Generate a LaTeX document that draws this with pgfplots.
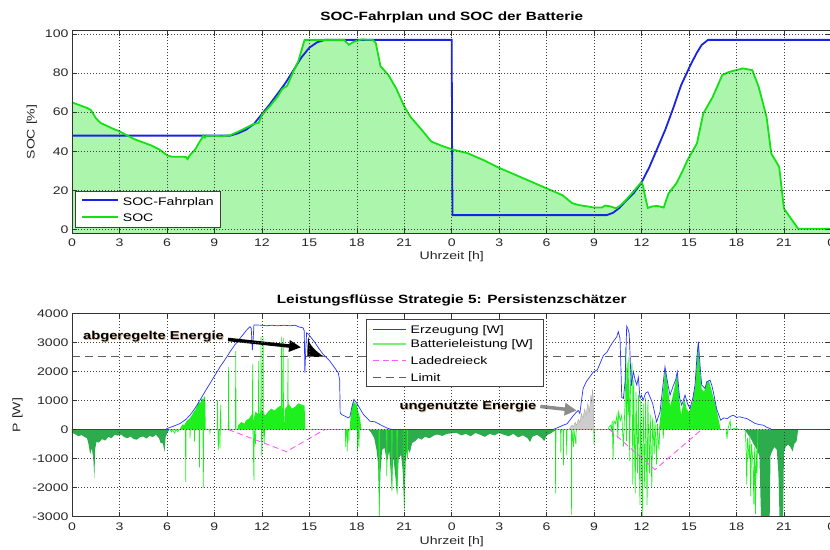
\documentclass[border=0pt]{standalone}
\usepackage{fontspec}
\setmainfont{Liberation Sans}[FakeStretch=1.28]
\usepackage{pgfplots}
\pgfplotsset{compat=1.18}
\usetikzlibrary{arrows.meta}

\definecolor{socblue}{RGB}{25,35,230}
\definecolor{socgreen}{RGB}{20,225,20}
\definecolor{socfill}{RGB}{172,245,172}
\definecolor{pblue}{RGB}{40,50,255}
\definecolor{bgreen}{RGB}{30,240,30}
\definecolor{dgreen}{RGB}{45,172,78}
\definecolor{zgreen}{RGB}{130,200,130}
\definecolor{lgray}{RGB}{205,205,205}
\definecolor{magen}{RGB}{255,90,255}
\definecolor{limgray}{RGB}{95,95,95}
\definecolor{legbgreen}{RGB}{120,240,120}

\newcommand{\legfont}{\fontsize{11}{13}\selectfont}

\pgfplotsset{
  mystyle/.style={
    scale only axis, width=759.4pt,
    xmin=0, xmax=48, xtick={0,3,...,48},
    xticklabels={0,3,6,9,12,15,18,21,0,3,6,9,12,15,18,21,0},
    tick align=inside, tick pos=both, major tick length=5pt,
    grid=major, major grid style={black!75, line width=0.5pt, dash pattern=on 1pt off 2pt},
    axis line style={black!80, line width=0.6pt},
    tick style={black!80, line width=0.5pt},
    tick label style={font=\fontsize{11}{13}\selectfont, text=black!85},
    xticklabel style={anchor=base, yshift=-13.7pt},
    scaled ticks=false,
    axis on top,
    clip mode=individual,
  }
}

\begin{document}
\begin{tikzpicture}
% ---------------- top axis ----------------
\begin{axis}[mystyle, at={(72pt,315.7pt)}, anchor=south west, height=202.6pt,
  ymin=-2, ymax=101.7, ytick={0,20,...,100}, yticklabels={0,20,40,60,80,100}]
\addplot[fill=socfill, draw=none] coordinates {(0,-2)
(0,65) (0.5,63.5) (1.0,62) (1.2,61) (1.5,57) (1.8,54.5) (2.2,53) (2.6,51.5) (3.0,50.2) (3.5,48) (4.0,46) (4.5,44.5) (5.0,43) (5.5,41) (6.0,38) (6.3,37.2) (7.0,37.2) (7.2,37) (7.3,36) (7.5,38.5) (7.8,41) (8.0,44) (8.2,46.5) (8.3,48) (8.4,47) (8.5,48) (9.0,47.8) (9.5,47.7) (10.0,48.2) (10.5,50) (11.0,52) (11.5,54) (11.8,54.5) (12.0,58.5) (12.5,63) (13.0,68) (13.3,72) (13.6,73.5) (14.0,81) (14.3,86) (14.7,97) (17.2,97) (17.5,94.5) (17.8,96) (18.0,96.5) (18.3,97.2) (19.0,97) (19.2,95.5) (19.5,83.5) (20.0,79) (20.5,72) (21.0,63) (21.4,57.5) (22.1,51) (22.7,45) (23.3,43) (24.0,41) (25,39) (26,35.5) (27,31.5) (28,28) (29,24.5) (30,21) (31,17.5) (31.6,13.5) (32,12.5) (33,11.2) (33.5,11.2) (33.7,12.2) (34.0,11.8) (34.4,10.8) (34.7,12.5) (35,14.9) (35.5,19.5) (36,24.3) (36.1,22) (36.25,16) (36.4,11) (36.7,11.8) (37.0,12) (37.4,11.2) (37.7,18.3) (38.2,23.6) (38.6,30) (38.9,35.4) (39.5,44) (39.9,59.3) (40.5,67.8) (41.1,79) (41.5,80.5) (42.4,82.4) (43.0,81.5) (43.4,73) (43.9,57.6) (44.2,38.8) (44.7,32) (45.0,10.7) (45.3,7.2) (45.9,0.3) (48,0.3)
(48,-2)};
\addplot[socblue, line width=1.8pt] coordinates {
(0,48) (10,48) (10.5,49.2) (11,51) (11.5,54) (12,59) (12.5,64) (13,69.5) (13.5,75) (14,81.5) (14.5,88) (15,93) (15.5,95.8) (16,97) (24,97) (24.02,50) (24.05,7.3) (33.8,7.3) (34.2,8.5) (34.6,11) (35,14.5) (35.5,18.5) (36,24) (36.5,32) (37,41.5) (37.5,51) (38,62) (38.5,73.8) (39,82.5) (39.2,85.8) (39.5,90.5) (39.8,94.4) (40.2,97) (48,97)};
\addplot[socgreen, line width=1.8pt] coordinates {
(0,65) (0.5,63.5) (1.0,62) (1.2,61) (1.5,57) (1.8,54.5) (2.2,53) (2.6,51.5) (3.0,50.2) (3.5,48) (4.0,46) (4.5,44.5) (5.0,43) (5.5,41) (6.0,38) (6.3,37.2) (7.0,37.2) (7.2,37) (7.3,36) (7.5,38.5) (7.8,41) (8.0,44) (8.2,46.5) (8.3,48) (8.4,47) (8.5,48) (9.0,47.8) (9.5,47.7) (10.0,48.2) (10.5,50) (11.0,52) (11.5,54) (11.8,54.5) (12.0,58.5) (12.5,63) (13.0,68) (13.3,72) (13.6,73.5) (14.0,81) (14.3,86) (14.7,97) (17.2,97) (17.5,94.5) (17.8,96) (18.0,96.5) (18.3,97.2) (19.0,97) (19.2,95.5) (19.5,83.5) (20.0,79) (20.5,72) (21.0,63) (21.4,57.5) (22.1,51) (22.7,45) (23.3,43) (24.0,41) (25,39) (26,35.5) (27,31.5) (28,28) (29,24.5) (30,21) (31,17.5) (31.6,13.5) (32,12.5) (33,11.2) (33.5,11.2) (33.7,12.2) (34.0,11.8) (34.4,10.8) (34.7,12.5) (35,14.9) (35.5,19.5) (36,24.3) (36.1,22) (36.25,16) (36.4,11) (36.7,11.8) (37.0,12) (37.4,11.2) (37.7,18.3) (38.2,23.6) (38.6,30) (38.9,35.4) (39.5,44) (39.9,59.3) (40.5,67.8) (41.1,79) (41.5,80.5) (42.4,82.4) (43.0,81.5) (43.4,73) (43.9,57.6) (44.2,38.8) (44.7,32) (45.0,10.7) (45.3,7.2) (45.9,0.3) (48,0.3)};
\node[font=\bfseries\fontsize{12}{14}\selectfont, anchor=base] at ([yshift=9.7pt]axis description cs:0.5,1) {SOC-Fahrplan und SOC der Batterie};
\node[font=\fontsize{11}{13}\selectfont, text=black!85, anchor=base] at ([yshift=-26.4pt]axis description cs:0.5,0) {Uhrzeit [h]};
\node[font=\fontsize{11}{13}\selectfont, text=black!85, rotate=90, anchor=center] at ([xshift=-40.3pt]axis description cs:0,0.5) {SOC [\%]};
\end{axis}

% ---------------- bottom axis ----------------
\begin{axis}[mystyle, at={(72pt,32.3pt)}, anchor=south west, height=203.4pt,
  ymin=-3000, ymax=4000, ytick={-3000,-2000,...,4000},
  yticklabels={-3000,-2000,-1000,0,1000,2000,3000,4000}]
% dark green night consumption
\addplot[fill=dgreen, draw=none] coordinates {
(0,0) (0,-110) (0.2,-160) (0.4,-230) (0.6,-190) (0.8,-260) (0.95,-300) (1.05,-520) (1.15,-850) (1.25,-640) (1.35,-1000) (1.41,-1700) (1.47,-650) (1.55,-420) (1.7,-450) (1.9,-330) (2.1,-380) (2.3,-250) (2.5,-300) (2.7,-180) (2.9,-210) (3.1,-170) (3.3,-260) (3.5,-300) (3.7,-240) (3.9,-330) (4.1,-350) (4.3,-260) (4.5,-240) (4.7,-310) (4.9,-220) (5.1,-260) (5.3,-180) (5.5,-300) (5.6,-460) (5.75,-480) (5.85,-780) (5.92,-250) (6.05,-100) (6.15,0)
(18.75,0) (18.9,-100) (19.1,-290) (19.25,-700) (19.35,-1200) (19.42,-2950) (19.5,-1440) (19.6,-700) (19.75,-630) (19.9,-1090) (20.05,-750) (20.15,-1500) (20.22,-2125) (20.3,-900) (20.4,-1400) (20.55,-2240) (20.65,-1000) (20.8,-860) (20.9,-1400) (21.0,-2700) (21.1,-1000) (21.2,-640) (21.35,-800) (21.5,-460) (21.7,-400) (21.9,-290) (22.1,-350) (22.3,-250) (22.6,-300) (22.9,-200) (23.1,-170) (23.4,-220) (23.7,-150) (24.0,-130) (24.3,-110) (24.6,-200) (24.9,-150) (25.2,-230) (25.5,-120) (25.8,-180) (26.1,-250) (26.4,-150) (26.7,-200) (27.0,-120) (27.3,-180) (27.6,-230) (27.9,-150) (28.2,-270) (28.5,-200) (28.8,-300) (28.95,-430) (29.1,-250) (29.4,-180) (29.7,-300) (29.85,-400) (30.0,-200) (30.3,-120) (30.5,-50) (30.6,0)
(42.5,0) (42.7,-150) (42.9,-300) (43.1,-520) (43.3,-700) (43.45,-900) (43.55,-3000) (44.1,-3000) (44.15,-900) (44.25,-750) (44.4,-600) (44.55,-700) (44.65,-1500) (44.72,-3000) (44.95,-3000) (45.0,-800) (45.1,-600) (45.25,-520) (45.4,-600) (45.55,-750) (45.65,-500) (45.8,-400) (45.9,0)};
% unused energy (gray)
\addplot[fill=lgray, draw=lgray!80!black, line width=0.3pt] coordinates {
(31.4,0) (31.5,80) (31.6,150) (31.7,100) (31.8,250) (31.9,150) (32.0,350) (32.1,250) (32.2,550) (32.3,400) (32.4,700) (32.5,500) (32.6,900) (32.7,600) (32.8,1200) (32.85,900) (32.9,1400) (32.95,1100) (33.0,0)};
% positive battery power fills
\addplot[fill=bgreen, draw=none] coordinates {
(6.8,0) (6.9,100) (7.0,180) (7.1,150) (7.2,250) (7.3,320) (7.4,360) (7.5,430) (7.6,520) (7.7,620) (7.8,680) (7.9,820) (8.0,960) (8.1,900) (8.2,1080) (8.3,1030) (8.35,1150) (8.42,1100) (8.45,0)};
\addplot[fill=bgreen, draw=none] coordinates {
(10.45,0) (10.5,150) (10.7,260) (10.9,200) (11.0,320) (11.2,380) (11.35,520) (11.45,300) (11.6,620) (11.8,500) (12.0,680) (12.2,480) (12.4,620) (12.6,720) (12.8,650) (13.0,760) (13.2,820) (13.35,700) (13.4,50) (13.45,700) (13.6,800) (13.7,880) (13.9,720) (14.1,780) (14.3,900) (14.5,860) (14.7,820) (14.75,0)};
\addplot[fill=bgreen, draw=none] coordinates {
(17.55,0) (17.6,400) (17.7,800) (17.8,980) (17.9,900) (18.0,850) (18.1,600) (18.2,400) (18.3,0)};
\addplot[fill=bgreen, draw=none] coordinates {
(37.1,0) (37.2,500) (37.35,1300) (37.5,2100) (37.65,1500) (37.8,800) (37.95,1100) (38.1,1500) (38.25,1950) (38.4,1000) (38.5,500) (38.6,800) (38.7,1100) (38.85,700) (39.0,600) (39.2,900) (39.4,1500) (39.55,2800) (39.6,3000) (39.7,2000) (39.8,1400) (39.95,1300) (40.1,1600) (40.25,1700) (40.4,1400) (40.55,1100) (40.7,800) (40.85,400) (41.0,0)};
% battery power spikes
\addplot[bgreen, line width=0.7pt] coordinates {
(6.2,0) (6.3,-80) (6.35,0) (6.5,-130) (6.55,0) (6.7,-70) (6.75,0) (7.17,0) (7.19,-1800) (7.21,0) (7.45,0) (7.46,-300) (7.48,0) (7.73,0) (7.75,-420) (7.77,0) (8.04,0) (8.06,-1300) (8.08,0) (8.28,0) (8.3,-2000) (8.32,0) (8.7,0) (8.72,-100) (8.74,0) (9.18,0) (9.2,1000) (9.22,0) (9.25,-700) (9.27,0) (9.33,0) (9.35,-650) (9.37,0) (9.4,850) (9.42,0) (9.88,0) (9.9,2150) (9.92,0) (10.33,0) (10.35,2700) (10.37,0)
(11.4,0) (11.42,2240) (11.44,0) (11.5,-1750) (11.52,0) (11.6,-500) (11.62,0) (11.78,0) (11.8,2350) (11.82,0) (11.93,0) (11.95,3200) (11.97,0) (12.0,-900) (12.02,0) (12.06,0) (12.08,3200) (12.1,0) (12.15,-500) (12.17,0) (13.23,0) (13.25,3200) (13.27,0) (13.33,0) (13.35,3150) (13.37,0) (13.63,0) (13.65,2450) (13.67,0)
(17.28,0) (17.3,-600) (17.32,0) (17.38,0) (17.4,-750) (17.42,0) (17.48,0) (17.5,-400) (17.52,0) (18.03,0) (18.05,-750) (18.07,0) (18.12,0) (18.14,-600) (18.16,0)
(19.4,0) (19.42,-3000) (19.44,0) (19.88,0) (19.9,-1600) (19.92,0) (20.2,0) (20.22,-2100) (20.24,0) (20.53,0) (20.55,-2240) (20.57,0) (20.98,0) (21.0,-2750) (21.02,0) (21.18,0) (21.2,-1000) (21.22,0)
(30.55,0) (30.57,-2200) (30.59,0) (30.88,0) (30.9,-800) (30.92,0) (31.04,0) (31.06,-1230) (31.08,0) (31.25,0) (31.27,-880) (31.29,0) (31.56,0) (31.58,-2950) (31.6,0) (31.7,-600) (31.72,0) (31.85,-500) (31.87,0) (32.98,0) (33.0,-500) (33.02,0)
(33.9,0) (33.95,100) (34.05,150) (34.1,0) (34.15,300) (34.2,-1050) (34.25,300) (34.35,200) (34.45,500) (34.5,-300) (34.55,600) (34.65,300) (34.75,500) (34.85,-600) (34.95,800) (35.0,2800) (35.05,-400) (35.1,2300) (35.15,500) (35.2,2500) (35.25,-1100) (35.3,1500) (35.4,2300) (35.45,-1900) (35.5,1700) (35.6,-2200) (35.65,1300) (35.75,-1500) (35.8,1200) (35.9,-2600) (35.95,1000) (36.05,-3000) (36.1,900) (36.2,-2000) (36.25,1100) (36.35,-2600) (36.4,1000) (36.5,-1500) (36.55,500) (36.65,-2000) (36.7,400) (36.8,-850) (36.85,300) (36.95,-1200) (37.0,200) (37.1,-700) (37.15,0) (37.35,0) (37.37,-300) (37.4,0)
(41.35,0) (41.4,-320) (41.45,0) (41.6,300) (41.65,0) (42.0,60) (42.1,0)
(42.55,0) (42.6,-500) (42.65,-1900) (42.7,-300) (42.8,-1000) (42.85,-200) (42.9,-2300) (42.95,-500) (43.05,-1200) (43.1,-2600) (43.15,-600) (43.2,-2900) (43.25,-700) (43.3,-1500) (43.35,0)};
% curtailed energy (black)
\addplot[fill=black, draw=black, line width=0.3pt] coordinates {
(14.88,2500) (14.93,3150) (15.0,3000) (15.1,2900) (15.25,2800) (15.4,2720) (15.55,2650) (15.7,2580) (15.85,2530) (15.95,2500)};
% zero line
\addplot[zgreen, line width=1.2pt] coordinates {(0,0) (48,0)};
% generation
\addplot[pblue, line width=0.7pt] coordinates {
(0,0) (5.95,0) (6.0,35) (6.4,110) (6.83,207) (7.2,350) (7.46,494) (7.8,750) (8.09,1011) (8.4,1300) (8.72,1585) (9.05,1880) (9.36,2160) (9.7,2430) (9.99,2677) (10.3,2920) (10.62,3137) (11.04,3424) (11.25,3539) (11.33,3480) (11.4,2735) (11.45,3100) (11.5,3600) (12.0,3590) (12.3,3570) (12.6,3590) (13.0,3570) (13.4,3590) (13.8,3570) (14.1,3590) (14.35,3530) (14.6,3500) (14.68,3400) (14.72,1950) (14.78,2800) (14.83,3330) (14.95,3280) (15.04,3217) (15.36,2990) (15.6,2790) (15.88,2585) (16.3,2355) (16.6,2125) (16.83,1953) (16.92,1700) (16.95,575) (17.04,517) (17.46,402) (17.57,450) (17.7,800) (17.82,1034) (17.99,919) (18.2,720) (18.42,517) (18.83,287) (19.15,264) (19.47,172) (19.89,57) (20.2,0)
(30.4,0) (30.55,30) (31.05,150) (31.3,200) (31.7,490) (32.0,660) (32.1,550) (32.3,1400) (32.5,1640) (32.95,1980) (33.2,2050) (33.6,2560) (33.8,2650) (34.0,2850) (34.2,3020) (34.43,3190) (34.53,3370) (34.64,3140) (34.75,1100) (34.85,1070) (34.96,1640) (35.06,3560) (35.15,3450) (35.22,3300) (35.35,1500) (35.48,1990) (35.6,1700) (35.7,1530) (35.8,1800) (35.9,1070) (36.0,1180) (36.1,1010) (36.25,1250) (36.4,1300) (36.55,1100) (36.7,900) (36.95,264) (37.17,609) (37.35,1500) (37.48,2160) (37.65,1600) (37.8,1183) (38.0,1500) (38.15,1700) (38.26,1988) (38.4,1100) (38.54,839) (38.75,1183) (38.9,900) (39.06,724) (39.25,1100) (39.38,1528) (39.5,2500) (39.59,3022) (39.7,2200) (39.8,1528) (40.01,1413) (40.12,1643) (40.33,1700) (40.45,1500) (40.58,1183) (40.75,700) (41.0,322) (41.2,400) (41.43,379) (41.6,450) (41.8,494) (42.0,420) (42.22,437) (42.45,400) (42.65,379) (42.9,300) (43.18,207) (43.45,170) (43.7,149) (43.9,80) (44.13,34) (44.2,0) (48,0)};
% Ladedreieck
\addplot[magen, line width=0.9pt, dash pattern=on 6pt off 3.5pt] coordinates {(9.88,0) (13.55,-760) (15.98,0)};
\addplot[magen, line width=0.9pt, dash pattern=on 6pt off 3.5pt] coordinates {(33.97,0) (36.85,-1380) (39.8,0)};
% Limit
\addplot[limgray, line width=1.1pt, dash pattern=on 8pt off 5pt] coordinates {(0,2500) (48,2500)};
% annotations
\draw[-{Triangle[length=12pt,width=11pt]}, line width=3.5pt, black] (axis cs:9.86,3100) -- (axis cs:14.48,2830);
\draw[-{Triangle[length=12pt,width=12pt]}, line width=3.5pt, black!45] (axis cs:29.6,793) -- (axis cs:31.9,655);
\node[font=\bfseries\fontsize{11.5}{13}\selectfont, text=orange!60!black!40, anchor=center] at ([xshift=0.8pt,yshift=-0.8pt]axis cs:5.15,3200) {abgeregelte Energie};
\node[font=\bfseries\fontsize{11.5}{13}\selectfont, text=black, anchor=center] at (axis cs:5.15,3200) {abgeregelte Energie};
\node[font=\bfseries\fontsize{11.5}{13}\selectfont, text=orange!60!black!40, anchor=center] at ([xshift=0.8pt,yshift=-0.8pt]axis cs:25.03,793) {ungenutzte Energie};
\node[font=\bfseries\fontsize{11.5}{13}\selectfont, text=black, anchor=center] at (axis cs:25.03,793) {ungenutzte Energie};
% titles and labels
\node[font=\bfseries\fontsize{12}{14}\selectfont, anchor=base] at ([yshift=9.5pt]axis description cs:0.5,1) {Leistungsflüsse Strategie 5: Persistenzschätzer};
\node[font=\fontsize{11}{13}\selectfont, text=black!85, anchor=base] at ([yshift=-27.5pt]axis description cs:0.5,0) {Uhrzeit [h]};
\node[font=\fontsize{11}{13}\selectfont, text=black!85, rotate=90, anchor=center] at ([xshift=-54.5pt]axis description cs:0,0.5) {P [W]};
\end{axis}

% ---------------- legends (drawn on top) ----------------
% top legend
\draw[black!75, line width=0.6pt, fill=white] (75pt,322pt) rectangle (220pt,358pt);
\draw[socblue, line width=1.8pt] (82pt,349pt) -- (118pt,349pt);
\node[anchor=base west, inner sep=0pt, font=\legfont] at (122.7pt,343.4pt) {SOC-Fahrplan};
\draw[socgreen, line width=1.8pt] (82pt,332.3pt) -- (118pt,332.3pt);
\node[anchor=base west, inner sep=0pt, font=\legfont] at (122.7pt,327.4pt) {SOC};
% bottom legend
\draw[black!75, line width=0.6pt, fill=white] (366.7pt,162.3pt) rectangle (543pt,229.7pt);
\draw[pblue, line width=0.7pt] (373pt,219.7pt) -- (406pt,219.7pt);
\node[anchor=base west, inner sep=0pt, font=\legfont] at (410.5pt,215.8pt) {Erzeugung [W]};
\draw[legbgreen, line width=1.6pt] (373pt,205pt) -- (406pt,205pt);
\node[anchor=base west, inner sep=0pt, font=\legfont] at (410.5pt,201.1pt) {Batterieleistung [W]};
\draw[magen, line width=0.9pt, dash pattern=on 6pt off 3.5pt] (373pt,188.3pt) -- (406pt,188.3pt);
\node[anchor=base west, inner sep=0pt, font=\legfont] at (410.5pt,184.4pt) {Ladedreieck};
\draw[limgray, line width=1.1pt, dash pattern=on 8pt off 5pt] (373pt,171.7pt) -- (406pt,171.7pt);
\node[anchor=base west, inner sep=0pt, font=\legfont] at (410.5pt,167.8pt) {Limit};

\pgfresetboundingbox
\path[use as bounding box] (0,0) rectangle (830pt,549pt);
\end{tikzpicture}
\end{document}
